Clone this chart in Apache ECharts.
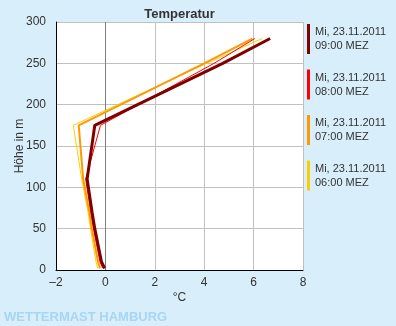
<!DOCTYPE html>
<html><head><meta charset="utf-8">
<script src="https://cdn.jsdelivr.net/npm/echarts@6/dist/echarts.min.js"></script>
<style>html,body{margin:0;padding:0;background:#d9eefb}#c{width:396px;height:326px}</style>
</head><body><div id="c"></div>
<script>
const heights = [2, 10, 50, 70, 110, 175, 250, 280];
const t09 = [-0.03, -0.16, -0.43, -0.54, -0.74, -0.43, 4.75, 6.67];
const t08 = [-0.11, -0.22, -0.48, -0.59, -0.80, -0.20, 4.40, 6.05];
const t07 = [-0.22, -0.30, -0.55, -0.65, -0.90, -1.08, 4.00, 5.95];
const t06 = [-0.31, -0.38, -0.60, -0.70, -0.96, -1.30, 4.10, 6.35];
const seriesNames = ['Mi, 23.11.2011\n09:00 MEZ','Mi, 23.11.2011\n08:00 MEZ','Mi, 23.11.2011\n07:00 MEZ','Mi, 23.11.2011\n06:00 MEZ'];
const xTicks = [-2, 0, 2, 4, 6, 8];
const yTicks = [0, 50, 100, 150, 200, 250, 300];

const font = 'Liberation Sans, Arial, sans-serif';
const pairs = arr => arr.map((v, i) => [v, heights[i]]);
const defs = [
  {name: seriesNames[3], data: t06, color: '#ffcc00', w: 1},
  {name: seriesNames[2], data: t07, color: '#ff9900', w: 2},
  {name: seriesNames[1], data: t08, color: '#ff0000', w: 1},
  {name: seriesNames[0], data: t09, color: '#800000', w: 3}
];
const chart = echarts.init(document.getElementById('c'), null, {renderer: 'canvas'});
chart.setOption({
  backgroundColor: '#d9eefb',
  animation: false,
  title: {text: 'Temperatur', left: 179.5, textAlign: 'center', top: 8, padding: 0,
    textStyle: {fontFamily: font, fontSize: 13, fontWeight: 'bold', color: '#333'}},
  graphic: [{type: 'text', left: 4, top: 311,
    style: {text: 'WETTERMAST HAMBURG', fontFamily: font, fontSize: 13, fontWeight: 'bold', fill: '#a6d6f3'}}],
  legend: {orient: 'vertical', left: 307, top: 24, padding: 0, itemWidth: 3, itemHeight: 30, itemGap: 15.5,
    icon: 'rect', data: seriesNames,
    textStyle: {fontFamily: font, fontSize: 11, color: '#333', lineHeight: 14}},
  grid: {left: 56, right: 93, top: 22, bottom: 56, backgroundColor: '#fff', show: true, borderWidth: 0,
    containLabel: false, outerBoundsMode: 'none'},
  xAxis: {type: 'value', min: xTicks[0], max: xTicks[xTicks.length-1], interval: 2,
    name: '°C', nameLocation: 'middle', nameGap: 22, nameMoveOverlap: false,
    nameTextStyle: {fontFamily: font, fontSize: 12, color: '#333'},
    axisLine: {onZero: false, lineStyle: {color: '#000', width: 1}},
    axisTick: {show: false},
    axisLabel: {fontFamily: font, fontSize: 12, color: '#333', margin: 7,
      formatter: v => (v < 0 ? '\u2013' + Math.abs(v) : String(v))},
    splitLine: {show: true, lineStyle: {color: ['#c0c0c0', '#808080', '#c0c0c0', '#c0c0c0', '#c0c0c0', '#c0c0c0'], width: 1}}},
  yAxis: {type: 'value', min: yTicks[0], max: yTicks[yTicks.length-1], interval: 50,
    name: 'Höhe in m', nameLocation: 'middle', nameGap: 30, nameRotate: 90, nameMoveOverlap: false,
    nameTextStyle: {fontFamily: font, fontSize: 12, color: '#333'},
    axisLine: {show: true, onZero: false, lineStyle: {color: '#000', width: 1}},
    axisTick: {show: false},
    axisLabel: {fontFamily: font, fontSize: 12, color: '#333', margin: 10},
    splitLine: {show: true, lineStyle: {color: '#c0c0c0', width: 1}}},
  series: defs.map(d => ({
    type: 'line', name: d.name, data: pairs(d.data), symbol: 'none',
    color: d.color, lineStyle: {color: d.color, width: d.w}
  }))
});
</script></body></html>
